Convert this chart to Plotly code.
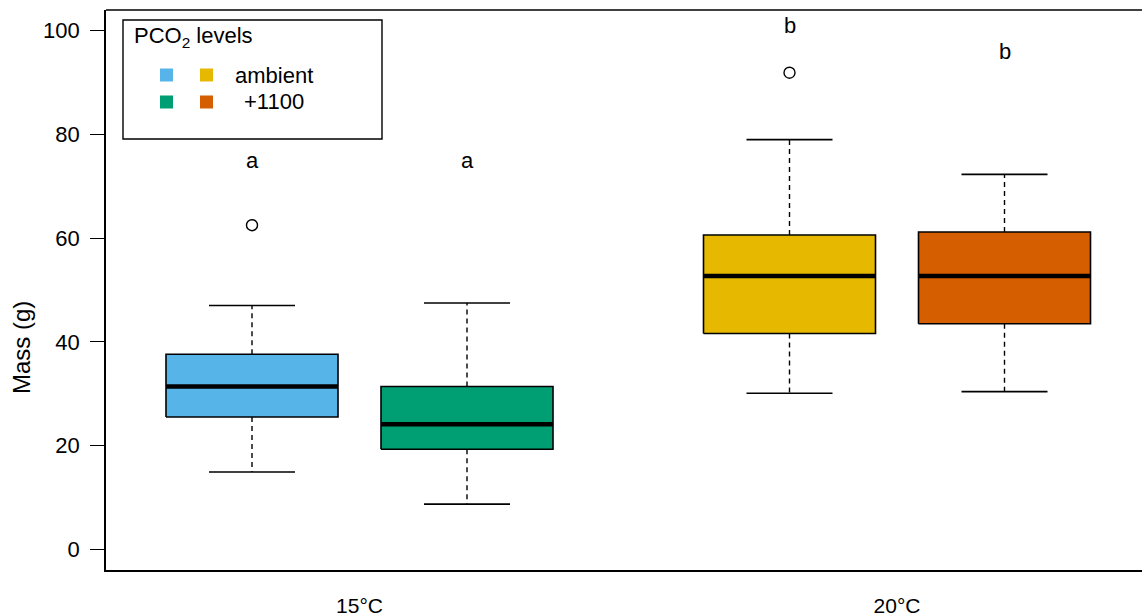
import plotly.graph_objects as go

# ---- data ----
groups = ["15°C", "20°C"]
group_pos = [1.5, 4.0]
box_pos = [1.0, 2.0, 3.5, 4.5]
box_colors = ["#56B4E9", "#009E73", "#E6B800", "#D55E00"]
q1 = [25.5, 19.3, 41.6, 43.5]
median = [31.4, 24.1, 52.7, 52.7]
q3 = [37.6, 31.4, 60.6, 61.2]
lower_whisker = [14.9, 8.7, 30.1, 30.4]
upper_whisker = [47.0, 47.5, 79.0, 72.3]
outlier_pos = [1.0, 3.5]
outlier_val = [62.5, 91.9]
letters = ["a", "a", "b", "b"]
letter_y = [75.0, 75.0, 101.0, 96.0]
legend_labels = ["ambient", "+1100"]
y_ticks = [0, 20, 40, 60, 80, 100]

FONT = "Liberation Sans, Arial, sans-serif"
W, H = 1142, 616
L, R, T, B = 106, 0, 10, 46
PW, PH = W - L - R, H - T - B


def px(xp):
    return (xp - L) / PW


def py(yp):
    return (H - B - yp) / PH


fig = go.Figure()
bw = 0.4
cw = 0.2

# whiskers (dashed) and caps
for i, p in enumerate(box_pos):
    for a, b in [(q3[i], upper_whisker[i]), (q1[i], lower_whisker[i])]:
        fig.add_trace(go.Scatter(x=[p, p], y=[a, b], mode="lines",
                                 line=dict(color="black", width=1.4, dash="5px,4px"),
                                 hoverinfo="skip", showlegend=False))
    for v in [upper_whisker[i], lower_whisker[i]]:
        fig.add_trace(go.Scatter(x=[p - cw, p + cw], y=[v, v], mode="lines",
                                 line=dict(color="black", width=1.6),
                                 hoverinfo="skip", showlegend=False))

# boxes
for i, p in enumerate(box_pos):
    fig.add_trace(go.Scatter(x=[p - bw, p + bw, p + bw, p - bw, p - bw],
                             y=[q1[i], q1[i], q3[i], q3[i], q1[i]],
                             mode="lines", fill="toself", fillcolor=box_colors[i],
                             line=dict(color="black", width=1.6),
                             hoverinfo="skip", showlegend=False))
    fig.add_trace(go.Scatter(x=[p - bw, p + bw], y=[median[i], median[i]], mode="lines",
                             line=dict(color="black", width=4.5),
                             hoverinfo="skip", showlegend=False))

# outliers
fig.add_trace(go.Scatter(x=outlier_pos, y=outlier_val, mode="markers",
                         marker=dict(symbol="circle-open", size=11,
                                     color="black", line=dict(width=1.4)),
                         hoverinfo="skip", showlegend=False))

# significance letters
for p, t, v in zip(box_pos, letters, letter_y):
    fig.add_annotation(x=p, y=v, text=t, showarrow=False,
                       font=dict(family=FONT, size=22, color="black"),
                       xanchor="center", yanchor="middle")

# frame top line
fig.add_shape(type="line", xref="paper", yref="paper", x0=0, x1=1, y0=1, y1=1,
              line=dict(color="black", width=1.6))

# legend box
fig.add_shape(type="rect", xref="paper", yref="paper",
              x0=px(123), x1=px(382), y0=py(139), y1=py(20),
              line=dict(color="black", width=1.4), fillcolor="white")
fig.add_annotation(xref="paper", yref="paper", x=px(132), y=py(37),
                   text="PCO<sub>2</sub> levels", showarrow=False,
                   xanchor="left", yanchor="middle",
                   font=dict(family=FONT, size=22, color="black"))
sq = 13
rows_y = [75, 102]
cols_x = [166.5, 206.5]
for r, yc in enumerate(rows_y):
    for c, xc in enumerate(cols_x):
        fig.add_shape(type="rect", xref="paper", yref="paper",
                      x0=px(xc - sq / 2), x1=px(xc + sq / 2),
                      y0=py(yc + sq / 2), y1=py(yc - sq / 2),
                      line=dict(width=0), fillcolor=box_colors[c * 2 + r])
    fig.add_annotation(xref="paper", yref="paper", x=px(274), y=py(yc),
                       text=legend_labels[r], showarrow=False,
                       xanchor="center", yanchor="middle",
                       font=dict(family=FONT, size=22, color="black"))

# y-axis title
fig.add_annotation(xref="paper", yref="paper", x=px(21), y=py(348),
                   text="Mass (g)", textangle=-90, showarrow=False,
                   xanchor="center", yanchor="middle",
                   font=dict(family=FONT, size=24, color="black"))

fig.update_layout(
    width=W, height=H,
    margin=dict(l=L, r=R, t=T, b=B, pad=0, autoexpand=False),
    paper_bgcolor="white", plot_bgcolor="white",
    font=dict(family=FONT, size=22, color="black"),
    xaxis=dict(range=[1 - 146 / 215, 1 + 890 / 215], tickvals=group_pos, ticktext=groups,
               showgrid=False, zeroline=False, showline=True, linecolor="black",
               linewidth=1.6, ticks="outside", ticklen=16, tickcolor="rgba(0,0,0,0)",
               automargin=False,
               tickfont=dict(family=FONT, size=21, color="black")),
    yaxis=dict(range=[-4, 104], tickvals=y_ticks, showgrid=False, zeroline=False,
               showline=True, linecolor="black", linewidth=1.6, ticks="outside",
               ticklen=14, tickwidth=1.4, tickcolor="black", ticklabelstandoff=6,
               automargin=False,
               tickfont=dict(family=FONT, size=22, color="black")),
)

fig.write_html("out.html", config={"displayModeBar": False},
               post_script="document.body.style.margin='0';")
